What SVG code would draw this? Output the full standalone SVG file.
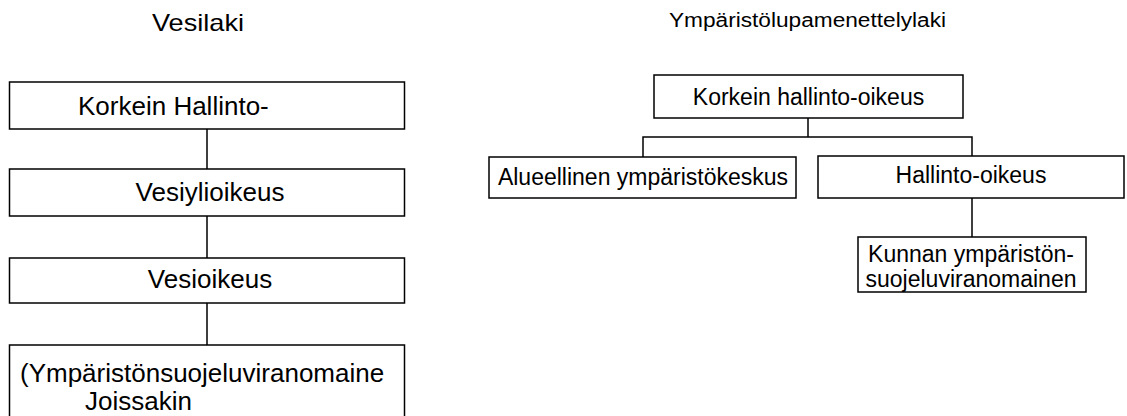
<svg xmlns="http://www.w3.org/2000/svg" width="1127" height="416" viewBox="0 0 1127 416">
<style>
.box{fill:#fff;stroke:#000;stroke-width:1.5}
.ln{fill:none;stroke:#000;stroke-width:1.5}
.tl{font-family:"Liberation Sans",Arial,sans-serif;font-size:26px;fill:#000}
.tr{font-family:"Liberation Sans",Arial,sans-serif;font-size:23px;fill:#000}
.m{text-anchor:middle}
</style>
<rect width="1127" height="416" fill="#fff"/>
<g id="titles">
<text class="tl" x="152" y="31" textLength="92" lengthAdjust="spacingAndGlyphs" style="font-size:24px">Vesilaki</text>
<text class="tr" x="669" y="27" textLength="277" lengthAdjust="spacingAndGlyphs" style="font-size:20px">Ympäristölupamenettelylaki</text>
</g>
<g id="connectors">
<path class="ln" d="M207 129V169M207 216V258M207 303V345"/>
<path class="ln" d="M808 118V137M643 157V137H972V156M972 198V237"/>
</g>
<g id="l1"><rect class="box" x="9.5" y="82" width="395" height="47"/><text class="tl" x="78" y="115">Korkein Hallinto-</text></g>
<g id="l2"><rect class="box" x="9.5" y="169" width="395" height="47"/><text class="tl m" x="210" y="201">Vesiylioikeus</text></g>
<g id="l3"><rect class="box" x="9.5" y="258" width="395" height="45"/><text class="tl m" x="210" y="288">Vesioikeus</text></g>
<g id="l4"><rect class="box" x="9.5" y="345" width="395" height="80"/><text class="tl" x="20" y="382">(Ympäristönsuojeluviranomaine</text><text class="tl" x="85" y="410">Joissakin</text></g>
<g id="r1"><rect class="box" x="654" y="75" width="309" height="43"/><text class="tr m" x="808.5" y="105">Korkein hallinto-oikeus</text></g>
<g id="r2"><rect class="box" x="489" y="157" width="307" height="41"/><text class="tr m" x="643" y="185">Alueellinen ympäristökeskus</text></g>
<g id="r3"><rect class="box" x="818" y="156" width="306" height="42"/><text class="tr m" x="971" y="183">Hallinto-oikeus</text></g>
<g id="r4"><rect class="box" x="858" y="237" width="228" height="55"/><text class="tr m" x="971" y="262">Kunnan ympäristön-</text><text class="tr m" x="971" y="287">suojeluviranomainen</text></g>
</svg>
